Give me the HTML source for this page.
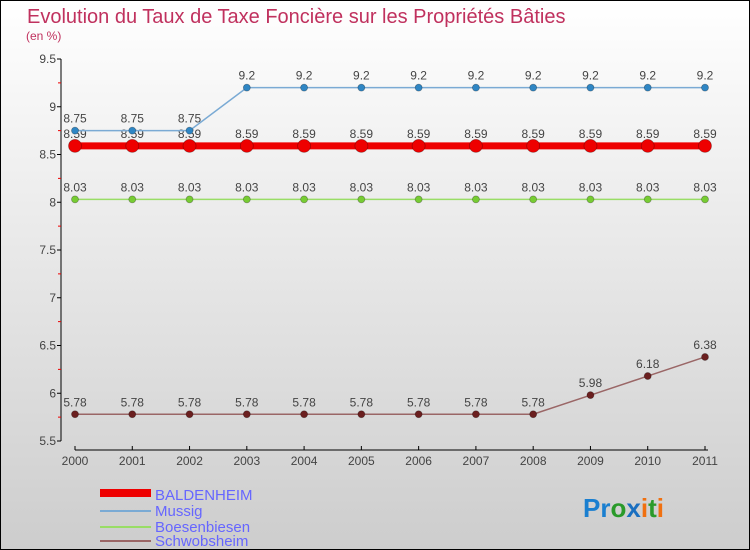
<!DOCTYPE html>
<html><head><meta charset="utf-8"><style>
body{margin:0}
#c{width:750px;height:550px;position:relative;overflow:hidden}
svg text{font-family:"Liberation Sans",sans-serif}
</style></head><body>
<div id="c">
<svg id="s" width="750" height="550" xmlns="http://www.w3.org/2000/svg">
<defs><linearGradient id="bg" x1="0" y1="0" x2="0" y2="1"><stop offset="0" stop-color="#ffffff"/><stop offset="1" stop-color="#cdcdcd"/></linearGradient></defs>
<rect x="0.5" y="0.5" width="749" height="549" fill="url(#bg)" stroke="#000"/>
<text x="27" y="23" font-size="20" fill="#c0315e">Evolution du Taux de Taxe Foncière sur les Propriétés Bâties</text>
<text x="26" y="40" font-size="12" fill="#c0315e">(en %)</text>
<g id="axes"></g>
<g id="series"></g>
<g>
<rect x="100" y="489" width="51" height="8" fill="#e00"/>
<text x="155" y="500" font-size="15" fill="#6666ff">BALDENHEIM</text>
<line x1="100" y1="511" x2="151" y2="511" stroke="#7aaad4" stroke-width="2"/>
<text x="155" y="516" font-size="15" fill="#6666ff">Mussig</text>
<line x1="100" y1="527" x2="151" y2="527" stroke="#99dd66" stroke-width="2"/>
<text x="155" y="532" font-size="15" fill="#6666ff">Boesenbiesen</text>
<line x1="100" y1="541" x2="151" y2="541" stroke="#9a6666" stroke-width="2"/>
<text x="155" y="546" font-size="15" fill="#6666ff">Schwobsheim</text>
</g>
<g font-size="26" font-weight="bold">
<text x="583" y="517"><tspan fill="#1a7fd0">Pr</tspan><tspan fill="#2a9a2a">o</tspan><tspan fill="#1a6fc0">x</tspan><tspan fill="#f07010">i</tspan><tspan fill="#2a9a2a">t</tspan><tspan fill="#f07010">i</tspan></text>
</g>
</svg>
</div>
<script>
const years=[2000,2001,2002,2003,2004,2005,2006,2007,2008,2009,2010,2011];
const baldenheim=[8.59,8.59,8.59,8.59,8.59,8.59,8.59,8.59,8.59,8.59,8.59,8.59];
const mussig=[8.75,8.75,8.75,9.2,9.2,9.2,9.2,9.2,9.2,9.2,9.2,9.2];
const boesenbiesen=[8.03,8.03,8.03,8.03,8.03,8.03,8.03,8.03,8.03,8.03,8.03,8.03];
const schwobsheim=[5.78,5.78,5.78,5.78,5.78,5.78,5.78,5.78,5.78,5.98,6.18,6.38];
const yTicks=[5.5,6,6.5,7,7.5,8,8.5,9,9.5];
const NS="http://www.w3.org/2000/svg";
function X(i){return 75+i*(705-75)/(years.length-1);}
function Y(v){return 441-(v-5.5)*(441-59)/4;}
function mk(tag,attrs,parent){const e=document.createElementNS(NS,tag);for(const k in attrs)e.setAttribute(k,attrs[k]);parent.appendChild(e);return e;}
const ax=document.getElementById('axes');
let yl=mk('line',{x1:61,y1:59,x2:61,y2:441,stroke:'#000'},ax);


yTicks.forEach((t,i)=>{
 const y=Y(t);
 const tk=mk('line',{x1:57,y1:y,x2:61,y2:y,stroke:'#000'},ax);
 
 
 const lb=mk('text',{x:56,y:y+4,'font-size':12,'text-anchor':'end',fill:'#444'},ax);
 lb.textContent=String(t);
 
 
 if(i<yTicks.length-1){const m=mk('line',{x1:58,y1:Y(t+0.25),x2:61,y2:Y(t+0.25),stroke:'#e00'},ax);
 
 }
});
let xl=mk('line',{x1:75,y1:450,x2:708,y2:450,stroke:'#000'},ax);


years.forEach((yr,i)=>{
 const x=X(i);
 const tk=mk('line',{x1:x,y1:446,x2:x,y2:450,stroke:'#000'},ax);
 
 
 const lb=mk('text',{x:x,y:465,'font-size':12,'text-anchor':'middle',fill:'#444'},ax);
 lb.textContent=String(yr);
 
 
});
const sg=document.getElementById('series');
function series(name,vals,color,dot,width,r){
 const g=mk('g',{},sg);
 
 
 const pl=mk('polyline',{points:vals.map((v,i)=>X(i)+','+Y(v)).join(' '),fill:'none',stroke:color,'stroke-width':width},g);
 
 
 vals.forEach((v,i)=>{
  const c=mk('circle',{cx:X(i),cy:Y(v),r:r,fill:dot,stroke:'rgba(0,0,0,0.3)','stroke-width':0.8},g);
  
  
  const t=mk('text',{x:X(i),y:Y(v)-8,'font-size':12,'text-anchor':'middle',fill:'#444'},g);
  t.textContent=String(v);
  
  
 });
}
series('schwobsheim',schwobsheim,'#9a6666','#6b1f1f',1.5,3.5);
series('boesenbiesen',boesenbiesen,'#99dd66','#77cc33',1.5,3.5);
series('baldenheim',baldenheim,'#e00','#e00',7,6.5);
series('mussig',mussig,'#7aaad4','#2f86c4',1.5,3.5);
</script>
</body></html>
